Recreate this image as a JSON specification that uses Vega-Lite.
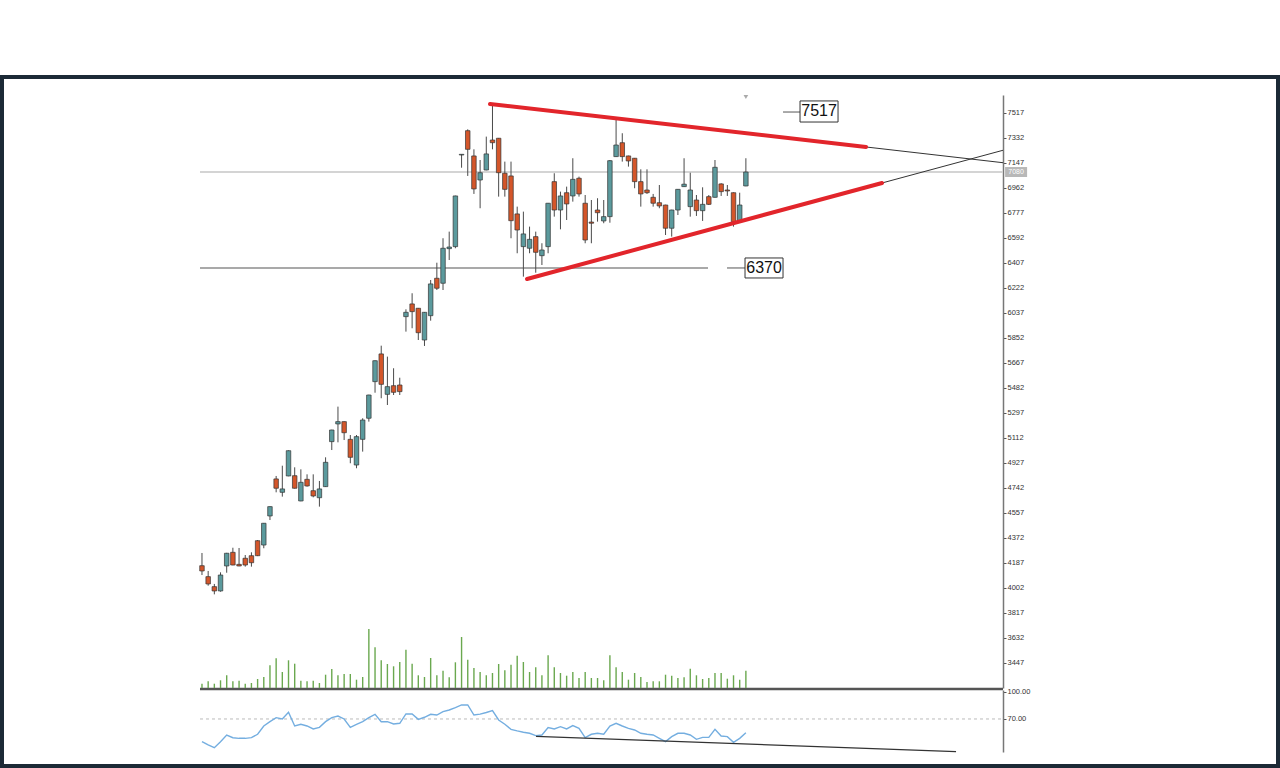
{
  "$schema": "https://vega.github.io/schema/vega-lite/v6.json",
  "width": 1276,
  "height": 689,
  "autosize": {"type": "none"},
  "padding": {"left": 2, "top": 77, "right": 2, "bottom": 2},
  "background": "white",
  "config": {
    "view": {"stroke": "#1c2a36", "strokeWidth": 4},
    "font": "Liberation Sans",
    "scale": {"continuousPadding": 0}
  },
  "datasets": {
    "candles": [
      {"i":0,"o":4167,"h":4261,"l":4098,"c":4128,"v":4300,"r":44.8},
      {"i":1,"o":4086,"h":4128,"l":4019,"c":4032,"v":6700,"r":41.1},
      {"i":2,"o":4012,"h":4032,"l":3955,"c":3980,"v":4300,"r":38.1},
      {"i":3,"o":3980,"h":4118,"l":3975,"c":4098,"v":7700,"r":44.8},
      {"i":4,"o":4165,"h":4262,"l":4115,"c":4259,"v":12700,"r":52.2},
      {"i":5,"o":4266,"h":4300,"l":4170,"c":4172,"v":6700,"r":49.2},
      {"i":6,"o":4177,"h":4298,"l":4163,"c":4165,"v":7300,"r":48.5},
      {"i":7,"o":4222,"h":4246,"l":4160,"c":4172,"v":4300,"r":48.5},
      {"i":8,"o":4241,"h":4266,"l":4160,"c":4189,"v":5000,"r":49.2},
      {"i":9,"o":4352,"h":4357,"l":4238,"c":4241,"v":9000,"r":53},
      {"i":10,"o":4320,"h":4483,"l":4296,"c":4481,"v":11000,"r":62.2},
      {"i":11,"o":4535,"h":4606,"l":4505,"c":4604,"v":22700,"r":67},
      {"i":12,"o":4809,"h":4831,"l":4710,"c":4740,"v":29700,"r":71.5},
      {"i":13,"o":4710,"h":4907,"l":4678,"c":4735,"v":16000,"r":70},
      {"i":14,"o":4831,"h":5020,"l":4829,"c":5018,"v":27700,"r":77.4},
      {"i":15,"o":4833,"h":4895,"l":4738,"c":4740,"v":24300,"r":62.2},
      {"i":16,"o":4646,"h":4880,"l":4644,"c":4784,"v":7300,"r":64.1},
      {"i":17,"o":4806,"h":4843,"l":4752,"c":4757,"v":6700,"r":62.2},
      {"i":18,"o":4722,"h":4843,"l":4673,"c":4683,"v":7300,"r":58.9},
      {"i":19,"o":4670,"h":4794,"l":4604,"c":4735,"v":5000,"r":60.7},
      {"i":20,"o":4752,"h":4969,"l":4750,"c":4932,"v":13300,"r":67},
      {"i":21,"o":5085,"h":5173,"l":5023,"c":5171,"v":19000,"r":71.5},
      {"i":22,"o":5216,"h":5344,"l":5080,"c":5233,"v":12700,"r":73.3},
      {"i":23,"o":5233,"h":5235,"l":5097,"c":5151,"v":14000,"r":70},
      {"i":24,"o":5102,"h":5134,"l":4925,"c":4969,"v":14000,"r":60.7},
      {"i":25,"o":4912,"h":5134,"l":4888,"c":5122,"v":8300,"r":64.1},
      {"i":26,"o":5102,"h":5258,"l":5011,"c":5245,"v":11000,"r":67},
      {"i":27,"o":5258,"h":5432,"l":5233,"c":5430,"v":59000,"r":71.5},
      {"i":28,"o":5529,"h":5686,"l":5447,"c":5684,"v":40700,"r":75.2},
      {"i":29,"o":5734,"h":5795,"l":5406,"c":5509,"v":27700,"r":67},
      {"i":30,"o":5435,"h":5714,"l":5356,"c":5492,"v":24000,"r":67},
      {"i":31,"o":5499,"h":5628,"l":5430,"c":5450,"v":21700,"r":64.4},
      {"i":32,"o":5504,"h":5558,"l":5430,"c":5455,"v":26000,"r":65.2},
      {"i":33,"o":6010,"h":6064,"l":5899,"c":6042,"v":38300,"r":75.6},
      {"i":34,"o":6104,"h":6183,"l":5924,"c":6047,"v":24300,"r":75.6},
      {"i":35,"o":6072,"h":6074,"l":5837,"c":5891,"v":12700,"r":69.6},
      {"i":36,"o":5837,"h":6044,"l":5793,"c":6042,"v":11000,"r":71.9},
      {"i":37,"o":6017,"h":6281,"l":5980,"c":6252,"v":30000,"r":75.2},
      {"i":38,"o":6294,"h":6409,"l":6207,"c":6220,"v":12700,"r":74.4},
      {"i":39,"o":6257,"h":6590,"l":6207,"c":6516,"v":17300,"r":78.1},
      {"i":40,"o":6513,"h":6639,"l":6429,"c":6525,"v":10700,"r":80},
      {"i":41,"o":6528,"h":6905,"l":6516,"c":6903,"v":25700,"r":82.6},
      {"i":42,"o":7206,"h":7212,"l":7112,"c":7211,"v":51000,"r":85.6},
      {"i":43,"o":7386,"h":7396,"l":7051,"c":7248,"v":28300,"r":85.6},
      {"i":44,"o":7199,"h":7248,"l":6918,"c":6955,"v":20000,"r":74.4},
      {"i":45,"o":7021,"h":7169,"l":6812,"c":7075,"v":16000,"r":75.4},
      {"i":46,"o":7095,"h":7342,"l":7093,"c":7214,"v":12700,"r":77.2},
      {"i":47,"o":7317,"h":7589,"l":7248,"c":7297,"v":15000,"r":79.3},
      {"i":48,"o":7330,"h":7332,"l":6898,"c":7075,"v":24000,"r":68.9},
      {"i":49,"o":7071,"h":7157,"l":6898,"c":6952,"v":17700,"r":64.1},
      {"i":50,"o":7051,"h":7157,"l":6590,"c":6720,"v":23300,"r":58.5},
      {"i":51,"o":6770,"h":6824,"l":6479,"c":6651,"v":32300,"r":56.7},
      {"i":52,"o":6528,"h":6787,"l":6306,"c":6622,"v":26000,"r":55.2},
      {"i":53,"o":6516,"h":6676,"l":6479,"c":6582,"v":16000,"r":54.1},
      {"i":54,"o":6602,"h":6639,"l":6335,"c":6486,"v":20700,"r":51.5},
      {"i":55,"o":6461,"h":6553,"l":6392,"c":6503,"v":12700,"r":52.2},
      {"i":56,"o":6528,"h":6851,"l":6479,"c":6849,"v":32700,"r":60.4},
      {"i":57,"o":7009,"h":7071,"l":6750,"c":6799,"v":20700,"r":58.9},
      {"i":58,"o":6799,"h":6935,"l":6656,"c":6903,"v":15000,"r":61.5},
      {"i":59,"o":6927,"h":6972,"l":6725,"c":6844,"v":12300,"r":58.9},
      {"i":60,"o":6903,"h":7182,"l":6861,"c":7026,"v":16000,"r":62.6},
      {"i":61,"o":7034,"h":7046,"l":6898,"c":6918,"v":10000,"r":59.6},
      {"i":62,"o":6849,"h":6910,"l":6553,"c":6577,"v":16000,"r":49.2},
      {"i":63,"o":6710,"h":6873,"l":6553,"c":6701,"v":10000,"r":53},
      {"i":64,"o":6799,"h":6886,"l":6713,"c":6779,"v":10000,"r":54.1},
      {"i":65,"o":6718,"h":6873,"l":6701,"c":6750,"v":7700,"r":53},
      {"i":66,"o":6750,"h":7169,"l":6705,"c":7164,"v":32700,"r":62.2},
      {"i":67,"o":7194,"h":7465,"l":7192,"c":7280,"v":20700,"r":65.2},
      {"i":68,"o":7297,"h":7367,"l":7157,"c":7194,"v":16000,"r":62.2},
      {"i":69,"o":7199,"h":7201,"l":7120,"c":7162,"v":8300,"r":59.6},
      {"i":70,"o":7182,"h":7184,"l":6960,"c":7009,"v":15000,"r":57.8},
      {"i":71,"o":7009,"h":7100,"l":6824,"c":6918,"v":11000,"r":54.1},
      {"i":72,"o":6947,"h":7100,"l":6918,"c":6927,"v":6000,"r":53},
      {"i":73,"o":6893,"h":6918,"l":6824,"c":6849,"v":6700,"r":52.2},
      {"i":74,"o":6853,"h":6984,"l":6812,"c":6829,"v":6700,"r":48.5},
      {"i":75,"o":6836,"h":6838,"l":6614,"c":6664,"v":13300,"r":44.8},
      {"i":76,"o":6664,"h":6801,"l":6602,"c":6799,"v":12300,"r":50.4},
      {"i":77,"o":6799,"h":6954,"l":6762,"c":6952,"v":10000,"r":54.1},
      {"i":78,"o":6972,"h":7182,"l":6970,"c":6990,"v":10700,"r":54.1},
      {"i":79,"o":6824,"h":7075,"l":6750,"c":6947,"v":19300,"r":52.2},
      {"i":80,"o":6873,"h":6910,"l":6755,"c":6794,"v":12700,"r":47.4},
      {"i":81,"o":6794,"h":6967,"l":6718,"c":6841,"v":9000,"r":49.6},
      {"i":82,"o":6898,"h":6910,"l":6836,"c":6841,"v":10000,"r":49.6},
      {"i":83,"o":6893,"h":7169,"l":6891,"c":7115,"v":15000,"r":58.5},
      {"i":84,"o":6992,"h":6997,"l":6903,"c":6935,"v":15000,"r":51.1},
      {"i":85,"o":6947,"h":6984,"l":6903,"c":6940,"v":9300,"r":50.4},
      {"i":86,"o":6927,"h":6929,"l":6676,"c":6713,"v":12700,"r":44.1},
      {"i":87,"o":6720,"h":6927,"l":6718,"c":6836,"v":8300,"r":48.5},
      {"i":88,"o":6977,"h":7182,"l":6975,"c":7080,"v":17300,"r":54.8}
    ],
    "lightLines": [{"x": -0.32, "x2": 129.6, "y": 7080}],
    "levelLines": [{"x": -0.32, "x2": 81.88, "y": 6370}],
    "connectors": [
      {"x": 84.95, "x2": 87.86, "y": 6370},
      {"x": 94.01, "x2": 96.76, "y": 7524}
    ],
    "redTrend": [
      {"x": 46.6, "x2": 107.44, "y": 7583.6, "y2": 7265.4},
      {"x": 52.59, "x2": 110.03, "y": 6288.6, "y2": 6999}
    ],
    "thinTrend": [
      {"x": 107.44, "x2": 129.6, "y": 7265.4, "y2": 7149},
      {"x": 110.03, "x2": 129.6, "y": 6999, "y2": 7241}
    ],
    "separator": [{"x": -0.32, "x2": 129.6, "y": 3255}],
    "labelBoxes": [
      {"x": 87.86, "x2": 94.01, "y": 6444, "y2": 6296, "tx": 90.94, "ty": 6370, "label": "6370"},
      {"x": 96.76, "x2": 102.91, "y": 7606, "y2": 7450, "tx": 99.84, "ty": 7528, "label": "7517"}
    ],
    "lastTag": [{"x": 129.94, "x2": 133.5, "y": 7117, "y2": 7043, "tx": 131.72, "ty": 7080, "label": "7080"}],
    "marker": [{"x": 88, "y": 7635}],
    "rsiRef": [{"x": -0.32, "x2": 129.6, "y": 70}],
    "rsiTrend": [{"x": 54.05, "x2": 122.0, "y": 50.6, "y2": 33.7}]
  },
  "layer": [
    {
      "data": {"name": "lightLines"},
      "mark": {"type": "rule", "color": "#d4d4d4", "strokeWidth": 2},
      "encoding": {
        "x": {"field": "x", "type": "quantitative", "scale": {"domain": [-0.32, 129.6], "range": [198, 1001], "nice": false, "zero": false, "padding": 0}, "axis": null},
        "x2": {"field": "x2"},
        "y": {"field": "y", "type": "quantitative", "scale": {"domain": [3262, 7650], "range": [611, 18], "zero": false, "nice": false},
          "axis": {"orient": "right", "offset": -275, "title": null, "grid": false,
            "values": [3447,3632,3817,4002,4187,4372,4557,4742,4927,5112,5297,5482,5667,5852,6037,6222,6407,6592,6777,6962,7147,7332,7517],
            "format": "d", "labelFont": "Liberation Sans", "labelFontSize": 7.5, "labelColor": "#333",
            "tickSize": 3, "tickColor": "#555", "domainColor": "#777", "domainWidth": 1.5, "labelPadding": 1}}
      }
    },
    {
      "data": {"name": "levelLines"},
      "mark": {"type": "rule", "color": "#555", "strokeWidth": 1.2},
      "encoding": {
        "x": {"field": "x", "type": "quantitative", "scale": {"domain": [-0.32, 129.6], "range": [198, 1001], "nice": false, "zero": false, "padding": 0}, "axis": null},
        "x2": {"field": "x2"},
        "y": {"field": "y", "type": "quantitative", "scale": {"domain": [3262, 7650], "range": [611, 18], "zero": false, "nice": false}, "axis": null}
      }
    },
    {
      "data": {"name": "connectors"},
      "mark": {"type": "rule", "color": "#555", "strokeWidth": 1},
      "encoding": {
        "x": {"field": "x", "type": "quantitative", "scale": {"domain": [-0.32, 129.6], "range": [198, 1001], "nice": false, "zero": false, "padding": 0}, "axis": null},
        "x2": {"field": "x2"},
        "y": {"field": "y", "type": "quantitative", "scale": {"domain": [3262, 7650], "range": [611, 18], "zero": false, "nice": false}, "axis": null}
      }
    },
    {
      "data": {"name": "separator"},
      "mark": {"type": "rule", "color": "#555", "strokeWidth": 2.5},
      "encoding": {
        "x": {"field": "x", "type": "quantitative", "scale": {"domain": [-0.32, 129.6], "range": [198, 1001], "nice": false, "zero": false, "padding": 0}, "axis": null},
        "x2": {"field": "x2"},
        "y": {"field": "y", "type": "quantitative", "scale": {"domain": [3262, 7650], "range": [611, 18], "zero": false, "nice": false}, "axis": null}
      }
    },
    {
      "data": {"name": "candles"},
      "mark": {"type": "rule", "color": "#6aa84f", "strokeWidth": 1.4},
      "encoding": {
        "x": {"field": "i", "type": "quantitative", "scale": {"domain": [-0.32, 129.6], "range": [198, 1001], "nice": false, "zero": false, "padding": 0}, "axis": null},
        "y": {"field": "v", "type": "quantitative", "scale": {"domain": [0, 593000], "range": [611, 18], "nice": false}, "axis": null},
        "y2": {"datum": 0}
      }
    },
    {
      "data": {"name": "candles"},
      "mark": {"type": "rule", "color": "#4a4a4a", "strokeWidth": 1},
      "encoding": {
        "x": {"field": "i", "type": "quantitative", "scale": {"domain": [-0.32, 129.6], "range": [198, 1001], "nice": false, "zero": false, "padding": 0}, "axis": null},
        "y": {"field": "l", "type": "quantitative", "scale": {"domain": [3262, 7650], "range": [611, 18], "zero": false, "nice": false}, "axis": null},
        "y2": {"field": "h"}
      }
    },
    {
      "data": {"name": "candles"},
      "mark": {"type": "bar", "width": 4.5, "stroke": "#333", "strokeWidth": 0.7},
      "encoding": {
        "x": {"field": "i", "type": "quantitative", "scale": {"domain": [-0.32, 129.6], "range": [198, 1001], "nice": false, "zero": false, "padding": 0}, "axis": null},
        "y": {"field": "o", "type": "quantitative", "scale": {"domain": [3262, 7650], "range": [611, 18], "zero": false, "nice": false}, "axis": null},
        "y2": {"field": "c"},
        "fill": {"condition": {"test": "datum.c > datum.o", "value": "#5b9a9d"}, "value": "#d4562a"}
      }
    },
    {
      "data": {"name": "thinTrend"},
      "mark": {"type": "rule", "color": "#333", "strokeWidth": 1},
      "encoding": {
        "x": {"field": "x", "type": "quantitative", "scale": {"domain": [-0.32, 129.6], "range": [198, 1001], "nice": false, "zero": false, "padding": 0}, "axis": null},
        "x2": {"field": "x2"},
        "y": {"field": "y", "type": "quantitative", "scale": {"domain": [3262, 7650], "range": [611, 18], "zero": false, "nice": false}, "axis": null},
        "y2": {"field": "y2"}
      }
    },
    {
      "data": {"name": "redTrend"},
      "mark": {"type": "rule", "color": "#e2252b", "strokeWidth": 4, "strokeCap": "round"},
      "encoding": {
        "x": {"field": "x", "type": "quantitative", "scale": {"domain": [-0.32, 129.6], "range": [198, 1001], "nice": false, "zero": false, "padding": 0}, "axis": null},
        "x2": {"field": "x2"},
        "y": {"field": "y", "type": "quantitative", "scale": {"domain": [3262, 7650], "range": [611, 18], "zero": false, "nice": false}, "axis": null},
        "y2": {"field": "y2"}
      }
    },
    {
      "data": {"name": "labelBoxes"},
      "mark": {"type": "rect", "fill": "white", "stroke": "#333", "strokeWidth": 1},
      "encoding": {
        "x": {"field": "x", "type": "quantitative", "scale": {"domain": [-0.32, 129.6], "range": [198, 1001], "nice": false, "zero": false, "padding": 0}, "axis": null},
        "x2": {"field": "x2"},
        "y": {"field": "y", "type": "quantitative", "scale": {"domain": [3262, 7650], "range": [611, 18], "zero": false, "nice": false}, "axis": null},
        "y2": {"field": "y2"}
      }
    },
    {
      "data": {"name": "labelBoxes"},
      "mark": {"type": "text", "font": "Liberation Sans", "fontSize": 16, "color": "#111", "align": "center", "baseline": "middle"},
      "encoding": {
        "x": {"field": "tx", "type": "quantitative", "scale": {"domain": [-0.32, 129.6], "range": [198, 1001], "nice": false, "zero": false, "padding": 0}, "axis": null},
        "y": {"field": "ty", "type": "quantitative", "scale": {"domain": [3262, 7650], "range": [611, 18], "zero": false, "nice": false}, "axis": null},
        "text": {"field": "label"}
      }
    },
    {
      "data": {"name": "lastTag"},
      "mark": {"type": "rect", "fill": "#b8b8b8"},
      "encoding": {
        "x": {"field": "x", "type": "quantitative", "scale": {"domain": [-0.32, 129.6], "range": [198, 1001], "nice": false, "zero": false, "padding": 0}, "axis": null},
        "x2": {"field": "x2"},
        "y": {"field": "y", "type": "quantitative", "scale": {"domain": [3262, 7650], "range": [611, 18], "zero": false, "nice": false}, "axis": null},
        "y2": {"field": "y2"}
      }
    },
    {
      "data": {"name": "lastTag"},
      "mark": {"type": "text", "font": "Liberation Sans", "fontSize": 7, "color": "white", "align": "center", "baseline": "middle"},
      "encoding": {
        "x": {"field": "tx", "type": "quantitative", "scale": {"domain": [-0.32, 129.6], "range": [198, 1001], "nice": false, "zero": false, "padding": 0}, "axis": null},
        "y": {"field": "ty", "type": "quantitative", "scale": {"domain": [3262, 7650], "range": [611, 18], "zero": false, "nice": false}, "axis": null},
        "text": {"field": "label"}
      }
    },
    {
      "data": {"name": "marker"},
      "mark": {"type": "point", "shape": "triangle-down", "size": 22, "filled": true, "color": "#aaa", "opacity": 1},
      "encoding": {
        "x": {"field": "x", "type": "quantitative", "scale": {"domain": [-0.32, 129.6], "range": [198, 1001], "nice": false, "zero": false, "padding": 0}, "axis": null},
        "y": {"field": "y", "type": "quantitative", "scale": {"domain": [3262, 7650], "range": [611, 18], "zero": false, "nice": false}, "axis": null}
      }
    },
    {
      "data": {"name": "rsiRef"},
      "mark": {"type": "rule", "color": "#bbb", "strokeWidth": 1, "strokeDash": [3, 3]},
      "encoding": {
        "x": {"field": "x", "type": "quantitative", "scale": {"domain": [-0.32, 129.6], "range": [198, 1001], "nice": false, "zero": false, "padding": 0}, "axis": null},
        "x2": {"field": "x2"},
        "y": {"field": "y", "type": "quantitative", "scale": {"domain": [33.3, 102.2], "range": [675, 613], "zero": false, "nice": false},
          "axis": {"orient": "right", "offset": -275, "title": null, "grid": false, "values": [70, 100], "format": ".2f",
            "labelFont": "Liberation Sans", "labelFontSize": 7.5, "labelColor": "#333",
            "tickSize": 3, "tickColor": "#555", "domainColor": "#777", "domainWidth": 1.5, "labelPadding": 1}}
      }
    },
    {
      "data": {"name": "candles"},
      "mark": {"type": "line", "color": "#74aee0", "strokeWidth": 1.4},
      "encoding": {
        "x": {"field": "i", "type": "quantitative", "scale": {"domain": [-0.32, 129.6], "range": [198, 1001], "nice": false, "zero": false, "padding": 0}, "axis": null},
        "y": {"field": "r", "type": "quantitative", "scale": {"domain": [33.3, 102.2], "range": [675, 613], "zero": false, "nice": false}, "axis": null}
      }
    },
    {
      "data": {"name": "rsiTrend"},
      "mark": {"type": "rule", "color": "#333", "strokeWidth": 1.2},
      "encoding": {
        "x": {"field": "x", "type": "quantitative", "scale": {"domain": [-0.32, 129.6], "range": [198, 1001], "nice": false, "zero": false, "padding": 0}, "axis": null},
        "x2": {"field": "x2"},
        "y": {"field": "y", "type": "quantitative", "scale": {"domain": [33.3, 102.2], "range": [675, 613], "zero": false, "nice": false}, "axis": null},
        "y2": {"field": "y2"}
      }
    }
  ],
  "resolve": {"scale": {"y": "independent"}}
}
